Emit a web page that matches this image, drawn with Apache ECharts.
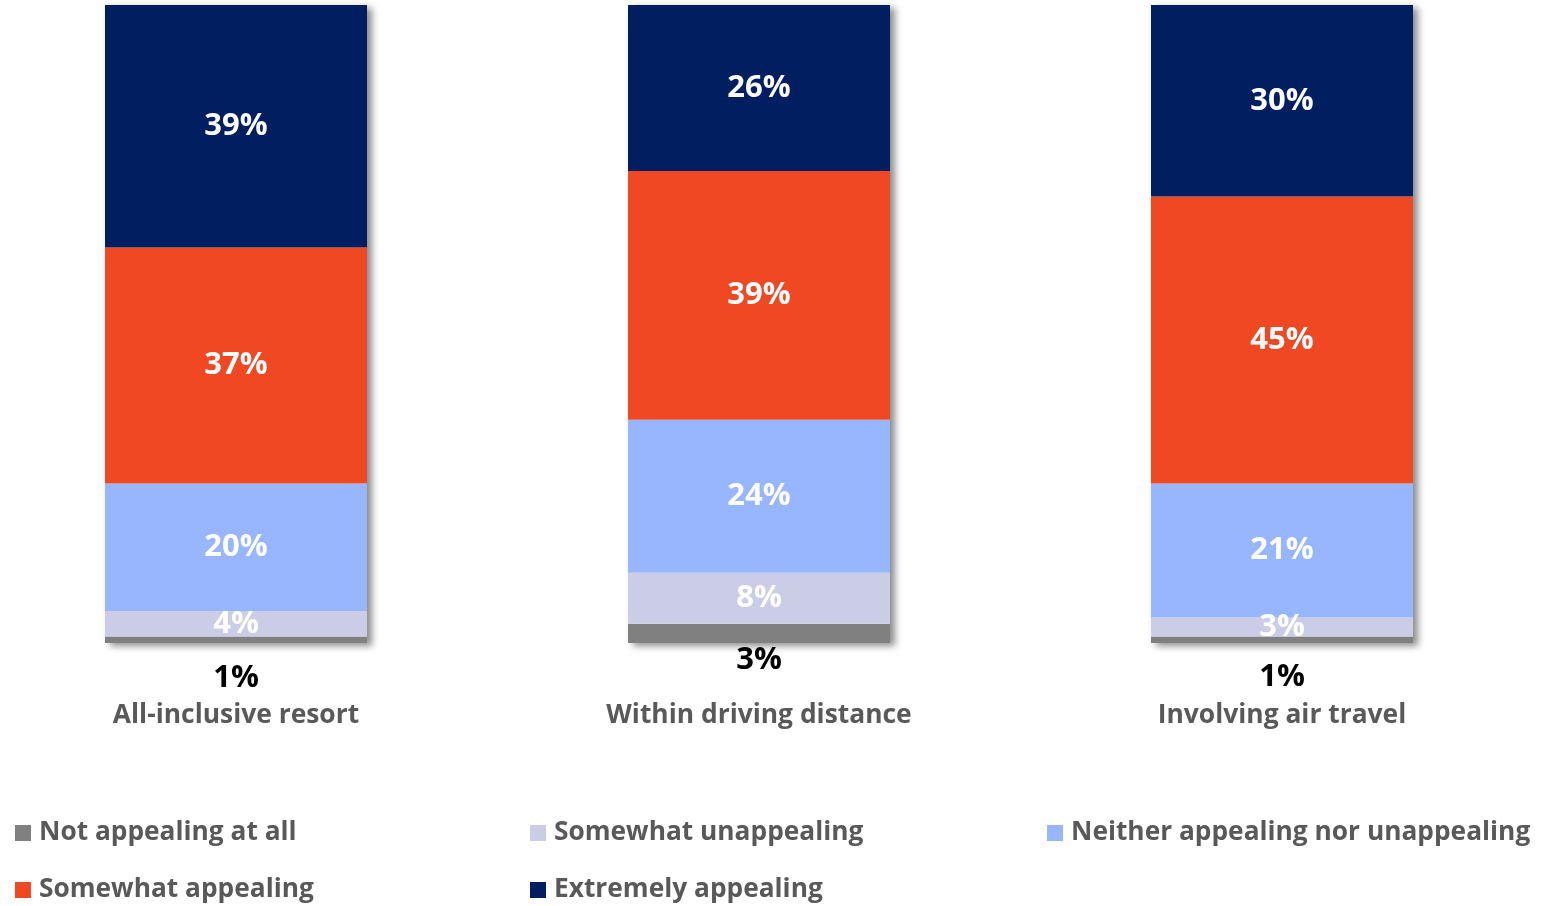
<!DOCTYPE html>
<html>
<head>
<meta charset="utf-8">
<style>
  html, body { margin: 0; padding: 0; background: #ffffff; }
  #chart { width: 1542px; height: 906px; }
</style>
<script src="https://cdn.jsdelivr.net/npm/echarts@6/dist/echarts.min.js"></script>
</head>
<body>
<div id="chart"></div>
<script>
// Vacation type appeal, share of respondents (%)
const categories = ['All-inclusive resort', 'Within driving distance', 'Involving air travel'];

const notAppealingAtAll      = [1, 3, 1];
const somewhatUnappealing    = [4, 8, 3];
const neitherAppealing       = [20, 24, 21];
const somewhatAppealing      = [37, 39, 45];
const extremelyAppealing     = [39, 26, 30];

const seriesNames = [
  'Not appealing at all',
  'Somewhat unappealing',
  'Neither appealing nor unappealing',
  'Somewhat appealing',
  'Extremely appealing'
];

const FONT = '"Open Sans", sans-serif';
const colors = ['#808080', '#CBCCE6', '#97B6FD', '#EF4823', '#001E60'];

// extra downward nudge for the small outside labels under each bar
const bottomLabelNudge = [20, 2, 19];

const stackValues = [notAppealingAtAll, somewhatUnappealing, neitherAppealing, somewhatAppealing, extremelyAppealing];
const totals = categories.map((_, i) => stackValues.reduce((s, arr) => s + arr[i], 0));

const barWidth = 262;

const series = [
  // drop shadow behind each full column
  {
    name: 'shadow',
    type: 'bar',
    data: totals,
    barWidth: barWidth,
    barGap: '-100%',
    z: 1,
    silent: true,
    itemStyle: {
      color: '#ffffff',
      shadowColor: 'rgba(0,0,0,0.45)',
      shadowBlur: 7,
      shadowOffsetX: 5,
      shadowOffsetY: 3
    },
    label: { show: false }
  }
];

stackValues.forEach((vals, k) => {
  const isBottom = k === 0;
  series.push({
    name: seriesNames[k],
    type: 'bar',
    stack: 'total',
    barWidth: barWidth,
    z: 2,
    itemStyle: { color: colors[k] },
    data: vals.map((v, i) => isBottom
      ? { value: v, label: { offset: [0, bottomLabelNudge[i]] } }
      : v),
    label: {
      show: true,
      position: isBottom ? 'bottom' : 'inside',
      distance: 0,
      formatter: p => p.value + '%',
      color: isBottom ? '#000000' : '#ffffff',
      fontFamily: FONT,
      fontWeight: 'bold',
      fontSize: 31
    }
  });
});

const legendText = {
  color: '#595959',
  fontFamily: FONT,
  fontWeight: 'bold',
  fontSize: 26.3,
  padding: [0, 0, 0, 3]
};

const legendBase = {
  orient: 'vertical',
  top: 820,
  padding: 0,
  icon: 'rect',
  itemWidth: 16,
  itemHeight: 16,
  itemGap: 31,
  textStyle: legendText,
  selectedMode: false
};

const option = {
  animation: false,
  backgroundColor: '#ffffff',
  grid: { left: -25.5, top: 5, width: 1569, bottom: 263, outerBoundsMode: 'none', containLabel: false },
  xAxis: {
    type: 'category',
    data: categories,
    axisLine: { show: false },
    axisTick: { show: false },
    axisLabel: {
      margin: 59,
      color: '#595959',
      fontFamily: FONT,
      fontWeight: 'bold',
      fontSize: 26.4
    }
  },
  yAxis: {
    type: 'value',
    min: 0,
    max: 100,
    show: false
  },
  legend: [
    Object.assign({}, legendBase, { left: 15, data: [seriesNames[0], seriesNames[3]] }),
    Object.assign({}, legendBase, { left: 530, data: [seriesNames[1], seriesNames[4]] }),
    Object.assign({}, legendBase, { left: 1047, data: [seriesNames[2]] })
  ],
  series: series
};

const chart = echarts.init(document.getElementById('chart'), null, { renderer: 'canvas' });
chart.setOption(option);
</script>
</body>
</html>
